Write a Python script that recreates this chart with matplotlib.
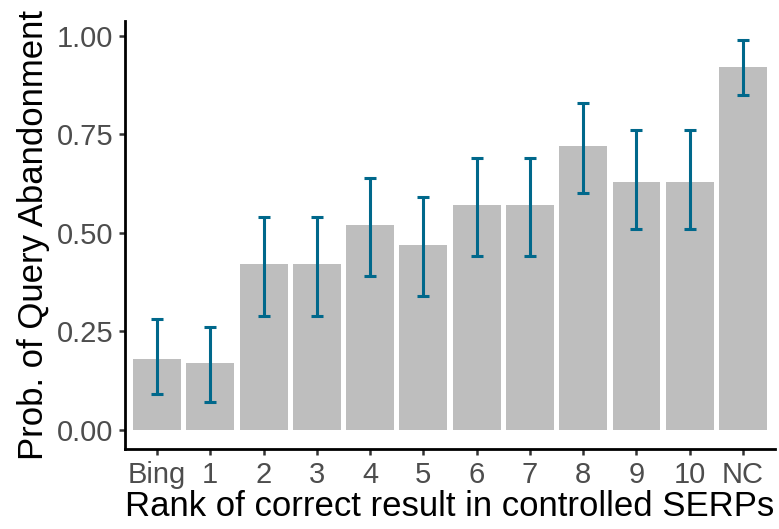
import matplotlib.pyplot as plt

plt.rcParams["font.family"] = ["Liberation Sans", "DejaVu Sans"]

categories = ["Bing", "1", "2", "3", "4", "5", "6", "7", "8", "9", "10", "NC"]
prob = [0.18, 0.17, 0.42, 0.42, 0.52, 0.47, 0.57, 0.57, 0.72, 0.63, 0.63, 0.92]
lower = [0.09, 0.07, 0.29, 0.29, 0.39, 0.34, 0.44, 0.44, 0.60, 0.51, 0.51, 0.85]
upper = [0.28, 0.26, 0.54, 0.54, 0.64, 0.59, 0.69, 0.69, 0.83, 0.76, 0.76, 0.99]

fig = plt.figure(figsize=(7.79, 5.29), dpi=100)
ax = fig.add_axes([125 / 779, 80 / 529, 650 / 779, 428 / 529])

x = list(range(len(categories)))
ax.bar(x, prob, width=0.9, color="#BEBEBE", zorder=1)
yerr = [[p - lo for p, lo in zip(prob, lower)], [hi - p for p, hi in zip(prob, upper)]]
ax.errorbar(x, prob, yerr=yerr, fmt="none", ecolor="#00688B",
            elinewidth=2.2, capsize=4, capthick=2.2, zorder=2)

ax.set_xlim(-0.6, len(categories) - 0.4)
ax.set_ylim(-0.049, 1.038)
ax.set_xticks(x)
ax.set_xticklabels(categories)
ax.set_yticks([0, 0.25, 0.5, 0.75, 1.0])
ax.set_yticklabels(["0.00", "0.25", "0.50", "0.75", "1.00"])

for side in ["top", "right"]:
    ax.spines[side].set_visible(False)
for side in ["left", "bottom"]:
    ax.spines[side].set_linewidth(2.0)
    ax.spines[side].set_color("black")

ax.tick_params(axis="both", length=4.5, width=1.8, color="#333333",
               labelsize=21, labelcolor="#4D4D4D", pad=4)

ax.set_xlabel("Rank of correct result in controlled SERPs", fontsize=25, labelpad=1)
ax.set_ylabel("Prob. of Query Abandonment", fontsize=25, labelpad=5)

fig.savefig("out.png", dpi=100)
